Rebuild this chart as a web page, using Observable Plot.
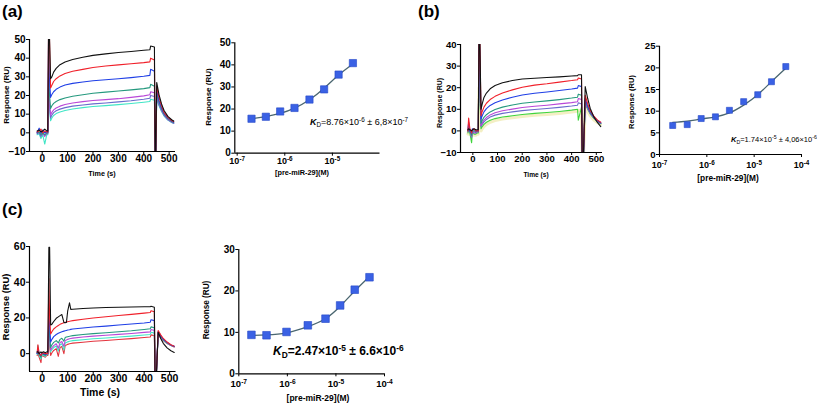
<!DOCTYPE html>
<html><head><meta charset="utf-8">
<script src="https://cdn.jsdelivr.net/npm/d3@7"></script>
<script src="https://cdn.jsdelivr.net/npm/@observablehq/plot@0.6"></script>
<style>
html,body{margin:0;padding:0;background:#fff}
#fig{position:relative;width:817px;height:404px;overflow:hidden;font-family:"Liberation Sans",Arial,sans-serif;color:#000}
.panel{position:absolute}
.t{position:absolute;font-weight:bold;white-space:nowrap;line-height:1;transform:translate(-50%,-50%)}
.r{transform:translate(-50%,-50%) rotate(-90deg)}
.lt{position:absolute;font-weight:bold;font-size:17px;line-height:1}
.kd{position:absolute;white-space:nowrap;line-height:1}
.sb{font-size:70%;position:relative;top:0.35em}
.sp{font-size:70%;position:relative;top:-0.5em}
</style></head><body>
<div id="fig">
  <div class="lt" style="left:2px;top:3px">(a)</div>
  <div class="lt" style="left:418px;top:3px">(b)</div>
  <div class="lt" style="left:2px;top:201px">(c)</div>

  <div class="t r" style="left:7px;top:95px;font-size:8px">Response (RU)</div>
  <div class="t" style="left:102px;top:174px;font-size:7.2px">Time (s)</div>
  <div class="t r" style="left:209px;top:97px;font-size:8px">Response (RU)</div>
  <div class="t" style="left:302px;top:173px;font-size:7.3px">[pre-miR-29](M)</div>

  <div class="t r" style="left:439px;top:103px;font-size:7px">Response (RU)</div>
  <div class="t" style="left:536px;top:175px;font-size:6.6px">Time (s)</div>
  <div class="t r" style="left:632px;top:102px;font-size:7.5px">Response (RU)</div>
  <div class="t" style="left:728px;top:178px;font-size:8.3px">[pre-miR-29](M)</div>

  <div class="t r" style="left:7px;top:307px;font-size:9.3px">Response (RU)</div>
  <div class="t" style="left:100px;top:392px;font-size:10.5px">Time (s)</div>
  <div class="t r" style="left:207px;top:310px;font-size:8.2px">Response (RU)</div>
  <div class="t" style="left:318px;top:398px;font-size:8.5px">[pre-miR-29](M)</div>

  <div class="kd" style="left:310px;top:118px;font-size:9px"><i><b>K</b></i><span class="sb">D</span>=8.76×10<span class="sp">-6</span> ± 6,8×10<span class="sp">-7</span></div>
  <div class="kd" style="left:731px;top:136px;font-size:7.5px"><i><b>K</b></i><span class="sb">D</span>=1.74×10<span class="sp">-5</span> ± 4,06×10<span class="sp">-6</span></div>
  <div class="kd" style="left:273px;top:345px;font-size:12px;font-weight:bold"><i>K</i><span class="sb">D</span>=2.47×10<span class="sp">-5</span> ± 6.6×10<span class="sp">-6</span></div>
</div>
<script>
// ---------- Sensorgram data (a) ----------
const timeA = [-20,-12,-5,2,10,18,22,25,28,33,38,45,55,70,90,120,160,200,250,300,350,400,424,427,442,445,447,451,460,470,480,495,510,518];
const aBlack   = [1,1.5,0.5,1,2,1,1, 55,55,29,30,32.5,34.5,36.5,38,39.3,40.5, 41.5,42.3,43,43.6,44.2,44.5,46.5,46,-15,-15, 27,20.5,15.5,12,8.8,7,6.3];
const aRed     = [0.5,1,2,0,1,0.5,0.5, 55,55,24,25.5,27.5,29,30.5,31.8,33,34, 35,35.8,36.4,37,37.6,38,40,39,-15,-15, 25,19,14.5,11,8.3,6.6,6];
const aBlue    = [0,2.5,0,1.5,0,0.5,0.5, 50,30,19,20.5,22,23.3,24.5,25.6,26.5,27.2, 27.9,28.4,29,29.6,30.3,30.8,34,33,-15,-15, 23,17.5,13.5,10.5,8,6.4,5.8];
const aTeal    = [0,0.5,-1,0,-1,0,0, 35,22,13,14.5,15.8,16.8,17.8,18.7,19.6,20.4, 21.2,21.8,22.4,23,23.7,24.2,26,25,-15,-15, 21,16.5,12.8,10,7.6,6.1,5.5];
const aMagenta = [0.5,0,-1,0.5,-2,0,0, 30,18,9.5,11,12.3,13.3,14.3,15.2,16,16.7, 17.3,17.8,18.3,19,19.8,20.4,22,21.5,-15,-15, 20,15.8,12.3,9.7,7.3,5.9,5.3];
const aSlate   = [-0.5,0,-2,-0.5,-1.5,-0.5,-0.5, 28,16,8,9.5,10.8,11.8,12.7,13.5,14.3,14.9, 15.5,16,16.6,17.2,18,18.5,20,19.5,-15,-15, 19,15,11.8,9.3,7,5.7,5.1];
const aCyan    = [-1,-0.5,-3,-1,-6,-1,-1, 25,14,6.5,8,9.3,10.3,11.2,12,12.8,13.5, 14.1,14.6,15.1,15.7,16.4,16.8,18,17.5,-15,-15, 18,14.5,11.4,9,6.8,5.5,5];

// ---------- Sensorgram data (b) ----------
const timeB = [-20,-17,-12,-5,-2,5,12,18,22, 25,28,33,38,45,55,70,90,120,160,200,250,300,350,400, 424,427,440,443,447,455,465,475,490,505,518];
const bBlack   = [0.5,1,0.5,0,0.5,1,0.5,0.5,0.5, 45,45,10,12.5,15.5,17.5,19.5,21,22.3,23.3,24,24.4,24.7,25,25.4, 25.6,26,26,-15,-15,20.5,15,10.5,6.5,3.8,2];
const bRed     = [0,6,1,-1,0.5,1,0,0,0, 45,45,7,9,11,12.8,14.5,16,17.5,19,20.2,21.2,21.8,22.6,23.3, 23.7,24.5,24,-15,-15,16.5,12.5,9.5,6.8,5,4];
const bBlue    = [0.5,4,0,-1,1,0.5,0,0,0, 45,38,5.5,7,8.8,10.3,11.8,13,14.3,15.6,16.6,17.4,18,18.7,19.4, 19.8,21,20.5,-15,-15,15,11.5,9,6.5,4.8,3.8];
const bTeal    = [0,2,0,-2,0,0,-0.5,0,0, 40,30,3.5,4.8,6.3,7.5,8.8,9.9,11,12,12.8,13.4,13.9,14.5,15.2, 15.6,17,16.5,-15,-15,14,11,8.6,6.3,4.6,3.6];
const bMagenta = [0,1.5,0,-2.5,0,-0.5,-1,0,0, 38,25,2.5,3.7,5,6.2,7.4,8.4,9.3,10.1,10.8,11.4,11.9,12.5,13.1, 13.5,15,14.5,-15,-15,13.5,10.6,8.3,6.1,4.5,3.5];
const bSlate   = [-0.5,1,-0.5,-3,-0.5,-1,-1,-0.5,-0.5, 35,22,2,3,4.2,5.3,6.4,7.3,8.1,8.8,9.4,9.9,10.4,10.9,11.5, 11.9,13,12.5,-15,-15,13,10.3,8.1,6,4.4,3.4];
const bGreen   = [-1,0.5,-1,-5.5,-1,-1.5,-1.5,-1,-1, 30,18,1,2,3,4,4.9,5.7,6.4,7,7.6,8.1,8.5,9,9.6, 10,5,11,-15,-15,12.5,10,7.9,5.8,4.3,3.3];
const bYellow  = [-1.5,0,-1.5,-2,-1.5,-2,-2,-1.5,-1.5, 20,10,0,1,2,3,4,4.8,5.5,6.1,6.7,7.2,7.6,8.1,8.7, 9.1,9.5,9.5,-15,-15,11,9,7,5,3.8,3];

// ---------- Sensorgram data (c) ----------
const timeC = [-20,-17,-12,-5,-2,5,12,18,22, 26,29,33,38,45,55,63,70,77,85,90,95,100,107,112,120,160,200,250,300,350,400, 424,427,440,443,447,455,465,475,490,505,518];
const cBlack   = [1,1,0,1,0.5,1,0.5,1,1, 59.5,59.5,16,16.5,18,19.8,20.6,21.3,21.9,17.5,17.3,17.5,24,28.5,24.8,24.9,25.3,25.6,25.8,26,26.1,26.3, 26.3,26.5,26,-15,-15,12,8.5,5.8,3.2,1.6,0.7];
const cRed     = [0.5,5,0,-1,0,0.5,0,0,0, 42,20,11,12.3,13.8,15,15.8,16.4,16.9,17.3,17.5,17.7,17.9,18.1,18.3,18.5,19.3,20,20.7,21.4,22,22.7, 23,24,23.5,-15,-15,13,10.5,8.5,6.5,5,4.2];
const cBlue    = [0,3,0,-1,0.5,0,-0.5,0,0, 23,15,6.5,8,9.5,10.7,11.4,11.9,12.3,12.6,12.8,13,13.2,13.4,13.6,13.8,14.4,14.9,15.4,16,16.6,17.2, 17.6,19,18.5,-15,-15,12.5,10,8.2,6.3,4.9,4.1];
const cTeal    = [0,2,-0.5,-2,0,-0.5,-1,0,0, 18,10,3.5,5,6.3,7.3,6,8,8.6,7,9,9.3,9.5,9.7,9.9,10.1,10.7,11.2,11.7,12.3,12.8,13.5, 13.9,15,14.5,-15,-15,12,9.7,7.9,6.1,4.8,4];
const cMagenta = [0.5,1,0,-1.5,0,0,-0.5,0,0, 15,8,2,3.3,4.5,5.5,3,6.3,6.8,4,7.4,7.7,8,8.3,8.5,8.7,9.3,9.8,10.3,10.8,11.3,11.9, 12.2,13.5,13,-15,-15,11.5,9.4,7.7,6,4.7,3.9];
const cCyan    = [-0.5,4.5,-1,-3,-0.5,-1,-1.5,-0.5,-0.5, 12,6,1,2.3,3.4,4.3,1.5,5,5.5,2,6,6.3,6.6,6.9,7.1,7.3,7.8,8.3,8.8,9.3,9.8,10.4, 10.7,12,11.5,-15,-15,11,9.1,7.5,5.8,4.6,3.8];
const cRed2    = [-1,0,-2,-5,-1,-1.5,-2,-1,-1, 10,4,-1,0.5,1.8,2.8,-1.5,3.5,4,0,4.6,4.9,5.2,5.5,5.7,5.9,6.4,6.9,7.4,7.9,8.4,9, 9.3,10.5,10,-15,-15,10.5,8.8,7.3,5.7,4.5,3.7];

const timeTicks = [0,100,200,300,400,500];

// ---------- Binding data ----------
const concA = [2.0e-7,4.0e-7,8.0e-7,1.6e-6,3.3e-6,6.7e-6,1.35e-5,2.7e-5];
const respA = [15.6,16.5,18.9,20.5,24.3,28.9,35.6,40.8];
const fitA  = [15.6,16.6,18.0,20.4,24.2,29.4,35.4,40.4];

const concB = [1.9e-7,3.85e-7,7.6e-7,1.52e-6,3.0e-6,6.0e-6,1.19e-5,2.32e-5,4.66e-5];
const respB = [6.7,6.9,8.3,8.7,10.2,12.2,13.8,16.8,20.3];
const fitB  = [7.4,7.7,8.2,8.7,9.6,11.4,13.8,16.8,19.9];

const concC = [1.82e-7,3.72e-7,9.6e-7,2.64e-6,6.1e-6,1.22e-5,2.44e-5,4.91e-5];
const respC = [9.4,9.3,10.1,11.7,13.3,16.5,20.3,23.3];
const fitC  = [9.25,9.4,9.9,11.4,13.3,16.3,20.0,23.5];

const traceColors = {black:"#111111", red:"#f0202a", blue:"#1f3fe6", teal:"#25997e", magenta:"#b948d8",
  slate:"#6a6ccc", cyan:"#41e6c6", green:"#3fd43c", yellow:"#f3efc4", red2:"#e4353f"};

function tidy(time, series) {
  return series.flatMap(([s, vals]) => vals.map((v, i) => ({t: time[i], v, s})));
}

function baseStyle(fs) {
  return {fontFamily: "Liberation Sans, Arial, sans-serif", fontSize: fs + "px", fontWeight: "bold",
          color: "#000", background: "none", overflow: "visible"};
}

function sensorgram(o) {
  const names = o.series.map(d => d[0]);
  return Plot.plot({
    width: o.width, height: o.height,
    marginLeft: o.ml, marginRight: o.mr, marginTop: o.mt, marginBottom: o.mb,
    style: baseStyle(o.fs),
    x: {domain: [-50, 525]},
    y: {domain: o.yDomain},
    color: {domain: names, range: names.map(n => traceColors[n])},
    marks: [
      Plot.line(tidy(o.time, o.series), {x: "t", y: "v", z: "s", stroke: "s",
        strokeWidth: d => d.s === "yellow" ? 3 : 1.1, strokeLinejoin: "round", clip: true}),
      Plot.ruleX([-50], {stroke: "#000", strokeWidth: 1.2}),
      Plot.ruleY([o.yDomain[0]], {stroke: "#000", strokeWidth: 1.2}),
      Plot.axisX({ticks: timeTicks, tickSize: 3, tickPadding: 0, label: null}),
      Plot.axisY({ticks: o.yTicks, tickSize: 3, tickPadding: 1, label: null})
    ]
  });
}

function supify(svg) {
  svg.querySelectorAll("text").forEach(t => {
    const m = /^10\^(-?\d+)$/.exec(t.textContent.trim());
    if (!m) return;
    t.textContent = "10";
    const ts = document.createElementNS("http://www.w3.org/2000/svg", "tspan");
    ts.setAttribute("dy", "-0.45em");
    ts.style.fontSize = "70%";
    ts.textContent = m[1];
    t.appendChild(ts);
  });
}

function binding(o) {
  const pts = o.conc.map((c, i) => ({c, r: o.resp[i], f: o.fit[i]}));
  const svg = Plot.plot({
    width: o.width, height: o.height,
    marginLeft: o.ml, marginRight: o.mr, marginTop: o.mt, marginBottom: o.mb,
    style: baseStyle(o.fs),
    x: {type: "log", domain: o.xDomain},
    y: {domain: o.yDomain},
    marks: [
      Plot.ruleX([o.xDomain[0]], {stroke: "#000", strokeWidth: 1.2}),
      Plot.ruleY([o.yDomain[0]], {stroke: "#000", strokeWidth: 1.2}),
      Plot.line(pts, {x: "c", y: "f", curve: "natural", stroke: "#4a6670", strokeWidth: 1.3}),
      Plot.dot(pts, {x: "c", y: "r", symbol: "square", r: o.r, fill: "#3a61e4", stroke: "#2446c8", strokeWidth: 0.6}),
      Plot.axisX({ticks: o.xTicks, tickFormat: d => "10^" + Math.round(Math.log10(d)),
        tickSize: 3, tickPadding: o.xpad, fontSize: o.xfs, label: null}),
      Plot.axisY({ticks: o.yTicks, tickSize: 3, tickPadding: 1, label: null})
    ]
  });
  supify(svg);
  return svg;
}

function mount(svg, left, top) {
  const d = document.createElement("div");
  d.className = "panel";
  d.style.left = left + "px";
  d.style.top = top + "px";
  d.appendChild(svg);
  document.getElementById("fig").appendChild(d);
}

// (a)
mount(sensorgram({
  time: timeA,
  series: [["cyan",aCyan],["slate",aSlate],["magenta",aMagenta],["teal",aTeal],["blue",aBlue],["red",aRed],["black",aBlack]],
  yDomain: [-10, 50], yTicks: [-10,0,10,20,30,40,50],
  width: 185, height: 185, ml: 29, mr: 10, mt: 39, mb: 34, fs: 10
}), 0, 0);
mount(binding({
  conc: concA, resp: respA, fit: fitA,
  xDomain: [Math.pow(10, -7.05), 1e-4], xTicks: [1e-7, 1e-6, 1e-5],
  yDomain: [0, 50], yTicks: [0,10,20,30,40,50],
  width: 200, height: 185, ml: 34.3, mr: 20.5, mt: 42.3, mb: 32.3, fs: 10, xfs: 9, xpad: 1.5, r: 4.1
}), 200, 0);

// (b)
mount(sensorgram({
  time: timeB,
  series: [["yellow",bYellow],["green",bGreen],["slate",bSlate],["magenta",bMagenta],["teal",bTeal],["blue",bBlue],["red",bRed],["black",bBlack]],
  yDomain: [-10, 40], yTicks: [-10,0,10,20,30,40],
  width: 180, height: 185, ml: 30, mr: 8, mt: 44, mb: 33, fs: 9.5
}), 430, 0);
mount(binding({
  conc: concB, resp: respB, fit: fitB,
  xDomain: [1e-7, 1e-4], xTicks: [1e-7, 1e-6, 1e-5, 1e-4],
  yDomain: [0, 25], yTicks: [0,5,10,15,20,25],
  width: 197, height: 185, ml: 39, mr: 16, mt: 45.7, mb: 31, fs: 9.6, xfs: 9, xpad: 4, r: 3.4
}), 620, 0);

// (c)
mount(sensorgram({
  time: timeC,
  series: [["red2",cRed2],["cyan",cCyan],["magenta",cMagenta],["teal",cTeal],["blue",cBlue],["red",cRed],["black",cBlack]],
  yDomain: [-10, 60], yTicks: [0,20,40,60],
  width: 185, height: 200, ml: 29, mr: 9.5, mt: 46, mb: 29, fs: 10.5
}), 0, 200);
mount(binding({
  conc: concC, resp: respC, fit: fitC,
  xDomain: [1e-7, 1e-4], xTicks: [1e-7, 1e-6, 1e-5, 1e-4],
  yDomain: [0, 30], yTicks: [0,10,20,30],
  width: 200, height: 204, ml: 38.3, mr: 16, mt: 49, mb: 30.7, fs: 10, xfs: 9.5, xpad: 3.5, r: 4.3
}), 200, 200);
</script>
</body></html>
